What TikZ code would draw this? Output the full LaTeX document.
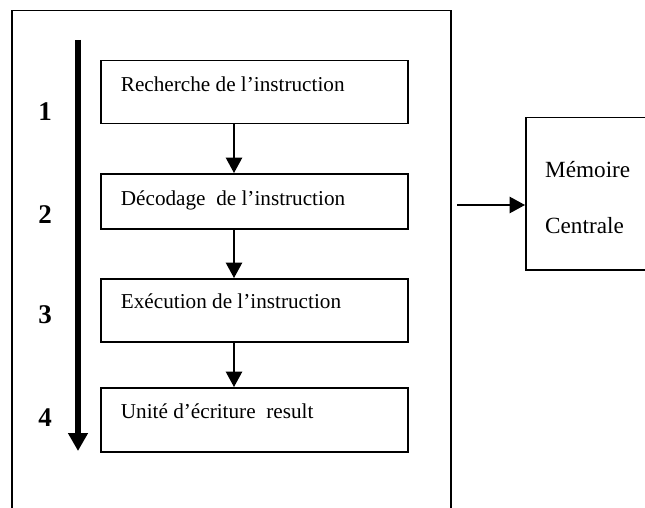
\documentclass[tikz,border=0pt]{standalone}
\usepackage{fontspec}
\setmainfont{Liberation Serif}
\usetikzlibrary{arrows.meta,calc}
\begin{document}
\begin{tikzpicture}[x=1pt,y=-1pt,
  frame/.style={draw,line width=1.5pt,rectangle,inner sep=0pt,anchor=north west},
  stagebox/.style={frame,minimum width=307pt,minimum height=#1},
  stagetext/.style={anchor=base west,inner sep=0pt,font=\fontsize{21.2}{25}\selectfont},
  memtext/.style={anchor=base west,inner sep=0pt,font=\fontsize{23.2}{28}\selectfont},
  stepnum/.style={anchor=base,inner sep=0pt,font=\fontsize{27}{30}\selectfont\bfseries},
  flow/.style={line width=1.4pt,-{Triangle[width=16.5pt,length=15.5pt]}}]
\clip (0,0) rectangle (645,508);
\useasboundingbox (0,0) rectangle (645,508);

% processor frame (open at the bottom edge)
\node[frame,minimum width=439pt,minimum height=530pt] (cpu) at (11,10) {};

% pipeline stages
\node[stagebox=63pt] (b1) at (100,60) {};
\node[stagebox=55pt] (b2) at (100,173) {};
\node[stagebox=63pt] (b3) at (100,278) {};
\node[stagebox=64pt] (b4) at (100,387) {};

\node[stagetext] (t1) at ($(b1.north west)+(20.7,32)$) {Recherche de l’instruction};
\node[stagetext] (t2) at ($(b2.north west)+(20.7,32)$) {Décodage\ \ de l’instruction};
\node[stagetext] (t3) at ($(b3.north west)+(20.7,30)$) {Exécution de l’instruction};
\node[stagetext] (t4) at ($(b4.north west)+(20.7,31)$) {Unité d’écriture\ \ result};

\coordinate (a1) at (234,0);
\draw[flow] (b1.south -| a1) -- (b2.north -| a1);
\draw[flow] (b2.south -| a1) -- (b3.north -| a1);
\draw[flow] (b3.south -| a1) -- (b4.north -| a1);

% time axis with step numbers
\coordinate (axtop) at (78,40);
\coordinate (axbot) at (78,451);
\draw[line width=5.5pt,-{Triangle[width=19pt,length=18pt]}] (axtop) -- (axbot);

\node[stepnum] (n1) at (45,121) {1};
\node[stepnum] (n2) at (45,223) {2};
\node[stepnum] (n3) at (45,323) {3};
\node[stepnum] (n4) at (45,426) {4};

% main memory
\node[frame,minimum width=140pt,minimum height=152pt] (mem) at (525,117) {};
\node[memtext] (m1) at ($(mem.north west)+(20,60)$) {Mémoire};
\node[memtext] (m2) at ($(mem.north west)+(20,116)$) {Centrale};

\coordinate (src) at (457,205);
\draw[flow] (src) -- (src -| mem.west);
\end{tikzpicture}
\end{document}
